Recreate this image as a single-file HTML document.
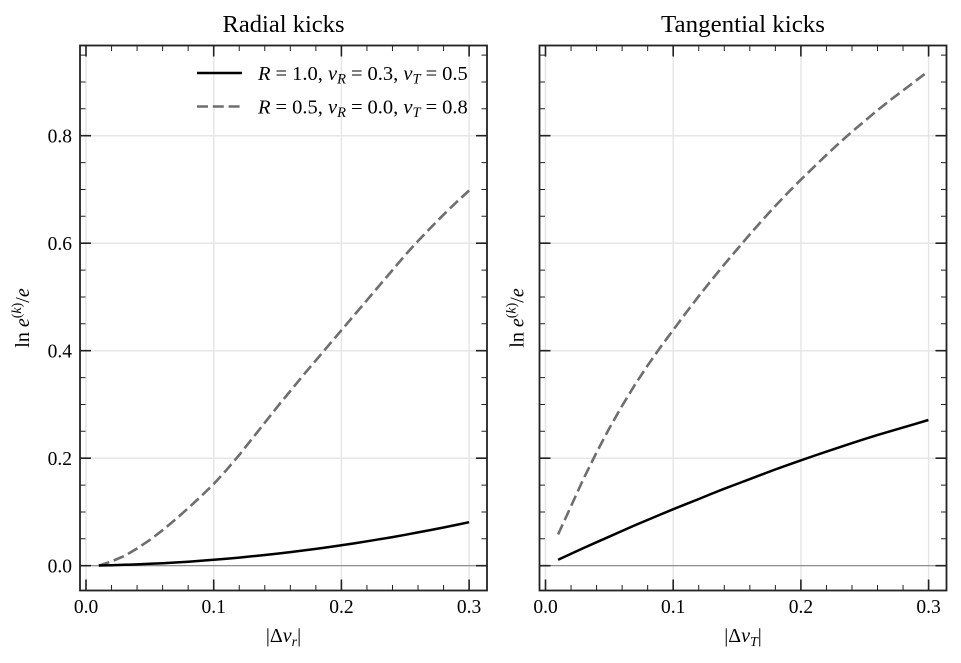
<!DOCTYPE html>
<html>
<head>
<meta charset="utf-8">
<style>
html,body{margin:0;padding:0;background:#fff;}
svg{display:block;font-family:"Liberation Serif","DejaVu Serif",serif;}
</style>
</head>
<body>
<svg width="961" height="663" viewBox="0 0 961 663" xmlns="http://www.w3.org/2000/svg">
<defs>
  <g id="grid">
    <g stroke="#e6e6e6" stroke-width="1.5" fill="none">
      <path d="M86 45.5V590.5M213.7 45.5V590.5M341.4 45.5V590.5M469.1 45.5V590.5"/>
      <path d="M80 458.2H487M80 350.7H487M80 243.2H487M80 135.7H487"/>
    </g>
    <path d="M80 565.7H487" stroke="#808080" stroke-width="1.2"/>
  </g>
  <g id="frame" fill="none" stroke="#222">
    <rect x="80" y="45.5" width="407" height="545" stroke-width="1.8"/>
    <path stroke-width="1.6" d="
      M86 590.5v-11M213.7 590.5v-11M341.4 590.5v-11M469.1 590.5v-11
      M86 45.5v11M213.7 45.5v11M341.4 45.5v11M469.1 45.5v11
      M80 565.7h11M80 458.2h11M80 350.7h11M80 243.2h11M80 135.7h11
      M487 565.7h-11M487 458.2h-11M487 350.7h-11M487 243.2h-11M487 135.7h-11"/>
    <path stroke-width="1" d="
      M111.54 590.5v-5.5M137.08 590.5v-5.5M162.62 590.5v-5.5M188.16 590.5v-5.5
      M239.24 590.5v-5.5M264.78 590.5v-5.5M290.32 590.5v-5.5M315.86 590.5v-5.5
      M366.94 590.5v-5.5M392.48 590.5v-5.5M418.02 590.5v-5.5M443.56 590.5v-5.5
      M111.54 45.5v5.5M137.08 45.5v5.5M162.62 45.5v5.5M188.16 45.5v5.5
      M239.24 45.5v5.5M264.78 45.5v5.5M290.32 45.5v5.5M315.86 45.5v5.5
      M366.94 45.5v5.5M392.48 45.5v5.5M418.02 45.5v5.5M443.56 45.5v5.5
      M80 538.8h5.5M80 511.95h5.5M80 485.1h5.5M80 431.3h5.5M80 404.45h5.5M80 377.6h5.5
      M80 323.8h5.5M80 296.95h5.5M80 270.1h5.5M80 216.3h5.5M80 189.45h5.5M80 162.6h5.5
      M80 108.8h5.5M80 81.95h5.5M80 55.1h5.5
      M487 538.8h-5.5M487 511.95h-5.5M487 485.1h-5.5M487 431.3h-5.5M487 404.45h-5.5M487 377.6h-5.5
      M487 323.8h-5.5M487 296.95h-5.5M487 270.1h-5.5M487 216.3h-5.5M487 189.45h-5.5M487 162.6h-5.5
      M487 108.8h-5.5M487 81.95h-5.5M487 55.1h-5.5"/>
  </g>
</defs>

<use href="#grid"/>
<use href="#grid" transform="translate(459.5,0)"/>

<polyline fill="none" stroke="#6e6e6e" stroke-width="2.6" stroke-dasharray="11 4.8" points="98.77,565.7 111.54,561.4 124.31,556.0 137.08,548.5 149.85,539.9 162.62,530.2 175.39,519.5 188.16,508.2 200.93,496.4 213.7,484.0 226.47,470.0 239.24,455.0 252.01,438.9 264.78,422.7 277.55,406.6 290.32,391.0 303.09,375.4 315.86,360.4 328.63,345.3 341.4,330.3 354.17,315.2 366.94,300.2 379.71,285.1 392.48,270.1 405.25,255.0 418.02,241.0 430.79,227.6 443.56,214.7 456.33,202.3 469.1,190.5"/>
<polyline fill="none" stroke="#000" stroke-width="2.5" points="98.77,565.5 111.54,565.2 124.31,564.8 137.08,564.4 149.85,563.8 162.62,563.2 175.39,562.5 188.16,561.7 200.93,560.8 213.7,559.8 226.47,558.7 239.24,557.6 252.01,556.3 264.78,555.0 277.55,553.6 290.32,552.1 303.09,550.5 315.86,548.9 328.63,547.1 341.4,545.3 354.17,543.4 366.94,541.3 379.71,539.2 392.48,537.1 405.25,534.8 418.02,532.4 430.79,530.0 443.56,527.5 456.33,524.9 469.1,522.2"/>

<polyline fill="none" stroke="#6e6e6e" stroke-width="2.6" stroke-dasharray="11 4.8" points="558.07,534.5 570.84,506.6 583.61,478.6 596.38,452.8 609.15,428.6 621.92,406.1 634.69,385.1 647.46,365.7 660.23,347.5 673.0,330.3 685.77,313.1 698.54,296.4 711.31,280.3 724.08,264.7 736.85,249.6 749.62,234.6 762.39,220.1 775.16,206.1 787.93,192.7 800.7,179.8 813.47,167.4 826.24,155.1 839.01,143.2 851.78,131.9 864.55,121.2 877.32,110.4 890.09,100.2 902.86,90.6 915.63,80.9 928.4,71.2"/>
<polyline fill="none" stroke="#000" stroke-width="2.5" points="558.07,559.8 570.84,553.9 583.61,548.0 596.38,542.3 609.15,536.7 621.92,531.0 634.69,525.4 647.46,520.0 660.23,514.6 673.0,509.3 685.77,504.2 698.54,499.1 711.31,493.9 724.08,488.8 736.85,484.0 749.62,479.2 762.39,474.3 775.16,469.5 787.93,464.9 800.7,460.4 813.47,456.0 826.24,451.7 839.01,447.4 851.78,443.2 864.55,439.1 877.32,435.1 890.09,431.3 902.86,427.6 915.63,423.8 928.4,420.0"/>

<use href="#frame"/>
<use href="#frame" transform="translate(459.5,0)"/>

<text x="283.5" y="32" font-size="24" text-anchor="middle" fill="#000" textLength="122" lengthAdjust="spacingAndGlyphs">Radial kicks</text>
<text x="743" y="32" font-size="24" text-anchor="middle" fill="#000" textLength="164" lengthAdjust="spacingAndGlyphs">Tangential kicks</text>

<g font-size="19.5" text-anchor="middle" fill="#000">
  <text x="86" y="613">0.0</text>
  <text x="213.7" y="613">0.1</text>
  <text x="341.4" y="613">0.2</text>
  <text x="469.1" y="613">0.3</text>
  <text x="545.5" y="613">0.0</text>
  <text x="673.2" y="613">0.1</text>
  <text x="800.9" y="613">0.2</text>
  <text x="928.6" y="613">0.3</text>
</g>
<g font-size="19.5" text-anchor="end" fill="#000">
  <text x="72" y="572.4">0.0</text>
  <text x="72" y="464.9">0.2</text>
  <text x="72" y="357.4">0.4</text>
  <text x="72" y="249.9">0.6</text>
  <text x="72" y="142.4">0.8</text>
</g>

<text x="283.5" y="642" font-size="20" text-anchor="middle" fill="#000">|Δ<tspan font-style="italic">v</tspan><tspan font-style="italic" font-size="14" dy="4">r</tspan><tspan dy="-4">|</tspan></text>
<text x="743" y="642" font-size="20" text-anchor="middle" fill="#000">|Δ<tspan font-style="italic">v</tspan><tspan font-style="italic" font-size="14" dy="4">T</tspan><tspan dy="-4">|</tspan></text>

<text transform="translate(29,318) rotate(-90)" font-size="20" text-anchor="middle" fill="#000">ln <tspan font-style="italic">e</tspan><tspan font-size="14" dy="-8">(</tspan><tspan font-size="14" font-style="italic">k</tspan><tspan font-size="14">)</tspan><tspan dy="8">/</tspan><tspan font-style="italic">e</tspan></text>
<text transform="translate(523.5,318) rotate(-90)" font-size="20" text-anchor="middle" fill="#000">ln <tspan font-style="italic">e</tspan><tspan font-size="14" dy="-8">(</tspan><tspan font-size="14" font-style="italic">k</tspan><tspan font-size="14">)</tspan><tspan dy="8">/</tspan><tspan font-style="italic">e</tspan></text>

<path d="M197 73H242" stroke="#000" stroke-width="2.5"/>
<path d="M197 106.5H242" stroke="#6e6e6e" stroke-width="2.6" stroke-dasharray="11 4.8"/>
<text x="258" y="80" font-size="20.5" fill="#000"><tspan font-style="italic">R</tspan><tspan dx="5">=</tspan><tspan dx="5">1.0, </tspan><tspan font-style="italic">v</tspan><tspan font-style="italic" font-size="14.5" dy="3.5">R</tspan><tspan dx="5" dy="-3.5">=</tspan><tspan dx="5">0.3, </tspan><tspan font-style="italic">v</tspan><tspan font-style="italic" font-size="14.5" dy="3.5">T</tspan><tspan dx="5" dy="-3.5">=</tspan><tspan dx="5">0.5</tspan></text>
<text x="258" y="113.5" font-size="20.5" fill="#000"><tspan font-style="italic">R</tspan><tspan dx="5">=</tspan><tspan dx="5">0.5, </tspan><tspan font-style="italic">v</tspan><tspan font-style="italic" font-size="14.5" dy="3.5">R</tspan><tspan dx="5" dy="-3.5">=</tspan><tspan dx="5">0.0, </tspan><tspan font-style="italic">v</tspan><tspan font-style="italic" font-size="14.5" dy="3.5">T</tspan><tspan dx="5" dy="-3.5">=</tspan><tspan dx="5">0.8</tspan></text>
</svg>
</body>
</html>
